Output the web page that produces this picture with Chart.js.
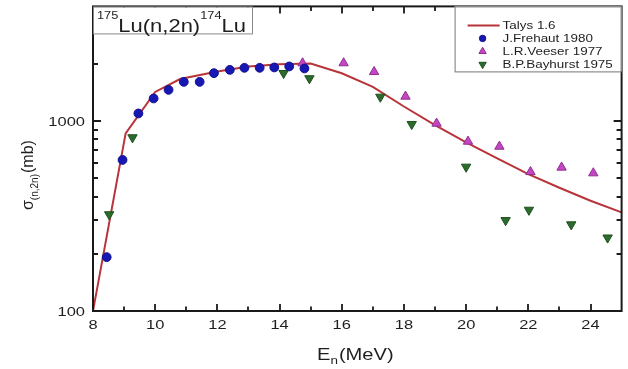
<!DOCTYPE html>
<html>
<head>
<meta charset="utf-8">
<script src="https://cdn.jsdelivr.net/npm/chart.js@4.4.1/dist/chart.umd.min.js"></script>
<style>
  html, body { margin:0; padding:0; background:#fff; }
</style>
</head>
<body>
<canvas id="xs" width="628" height="369"></canvas>
<script>
const FONT = "'Liberation Sans', Arial, sans-serif";
const INK = "#1a1a1a";
const SX = 1.22; // text in this figure is drawn a bit wide

// Talys 1.6 calculation
const talysE     = [8, 9.05, 10, 10.8, 12, 13, 14, 15, 16, 17, 18, 19, 20, 21, 22, 23, 24, 25];
const talysSigma = [100, 860, 1420, 1660, 1820, 1930, 1985, 2005, 1780, 1510, 1190, 950, 770, 635, 525, 445, 380, 330];

// J.Frehaut 1980
const frehautE     = [8.44, 8.95, 9.46, 9.95, 10.43, 10.92, 11.43, 11.89, 12.40, 12.87, 13.36, 13.83, 14.31, 14.80];
const frehautSigma = [192, 623, 1094, 1312, 1456, 1604, 1604, 1782, 1855, 1901, 1901, 1910, 1933, 1887];

// L.R.Veeser 1977
const veeserE     = [14.74, 16.06, 17.04, 18.05, 19.05, 20.06, 21.07, 22.07, 23.07, 24.09];
const veeserSigma = [2013, 2013, 1811, 1344, 969, 779, 733, 539, 569, 531];

// B.P.Bayhurst 1975
const bayhurstE     = [8.52, 9.27, 14.13, 14.96, 17.24, 18.25, 20.0, 21.27, 22.02, 23.38, 24.55];
const bayhurstSigma = [322, 818, 1782, 1672, 1337, 961, 573, 300, 340, 285, 243];

const xTickValues  = [8, 10, 12, 14, 16, 18, 20, 22, 24];
const xMinorTicks  = [9, 11, 13, 15, 17, 19, 21, 23];
const yTickLabels  = [100, 1000];
const yMinorTicks  = [200, 300, 400, 500, 600, 700, 800, 900, 2000, 3000];

const pts = (xs, ys) => xs.map((x, i) => ({ x, y: ys[i] }));

function wideText(ctx, text, x, y, size, align){
  ctx.save();
  ctx.font = `${size}px ${FONT}`;
  const w = ctx.measureText(text).width * SX;
  ctx.translate(x, y);
  ctx.scale(SX, 1);
  ctx.textAlign = align || "left";
  ctx.fillText(text, 0, 0);
  ctx.restore();
  return w;
}

// frame, inward ticks on all four sides, labels, title box and legend
const decor = {
  id: "decor",
  afterDatasetsDraw(chart){
    const { ctx, chartArea: a, scales: { x, y } } = chart;
    ctx.save();
    ctx.strokeStyle = INK;
    ctx.lineWidth = 2;
    ctx.strokeRect(a.left, a.top, a.right - a.left, a.bottom - a.top);

    const xTick = (v, len) => {
      const px = Math.round(x.getPixelForValue(v));
      ctx.beginPath();
      ctx.moveTo(px, a.bottom); ctx.lineTo(px, a.bottom - len);
      ctx.moveTo(px, a.top);    ctx.lineTo(px, a.top + len);
      ctx.stroke();
    };
    const yTick = (v, len) => {
      const py = Math.round(y.getPixelForValue(v));
      ctx.beginPath();
      ctx.moveTo(a.left, py);  ctx.lineTo(a.left + len, py);
      ctx.moveTo(a.right, py); ctx.lineTo(a.right - len, py);
      ctx.stroke();
    };
    ctx.lineWidth = 1.8;
    xTickValues.forEach(v => xTick(v, 7));
    xMinorTicks.forEach(v => xTick(v, 4.5));
    yTickLabels.forEach(v => yTick(v, 8));
    yMinorTicks.forEach(v => yTick(v, 5));

    // tick labels
    ctx.fillStyle = "#1e1e1e";
    ctx.textBaseline = "middle";
    xTickValues.forEach(v => wideText(ctx, String(v), x.getPixelForValue(v), a.bottom + 14, 13.5, "center"));
    yTickLabels.forEach(v => wideText(ctx, String(v), a.left - 8, y.getPixelForValue(v) + 1, 13.5, "right"));

    // axis titles
    ctx.textBaseline = "alphabetic";
    let cx = 317;
    cx += wideText(ctx, "E", cx, 360, 16.5);
    cx += wideText(ctx, "n", cx, 364, 11);
    wideText(ctx, "(MeV)", cx + 1, 360, 16.5);

    ctx.save();
    ctx.translate(33, 210);
    ctx.rotate(-Math.PI / 2);
    ctx.font = `16px ${FONT}`;
    let ty = 0;
    ctx.fillText("\u03c3", ty, 0); ty += ctx.measureText("\u03c3").width;
    ctx.font = `10px ${FONT}`;
    ctx.fillText("(n,2n)", ty, 5); ty += ctx.measureText("(n,2n)").width + 1;
    ctx.font = `16px ${FONT}`;
    ctx.fillText("(mb)", ty, 0);
    ctx.restore();

    // reaction box
    ctx.fillStyle = "#fff";
    ctx.fillRect(a.left + 1, a.top + 1, 158, 26);
    ctx.strokeStyle = "#8a8a8a";
    ctx.lineWidth = 1;
    ctx.strokeRect(a.left + 0.5, a.top + 0.5, 159, 27);
    ctx.fillStyle = "#1e1e1e";
    let rx = 97;
    rx += wideText(ctx, "175", rx, 19, 10.5);
    rx += wideText(ctx, "Lu(n,2n)", rx, 31.5, 18);
    rx += wideText(ctx, "174", rx, 19, 10.5);
    wideText(ctx, "Lu", rx, 31.5, 18);

    // legend
    const lx = a.right - 167, ly = a.top;
    ctx.fillStyle = "#fff";
    ctx.fillRect(lx, ly, 167, 65);
    ctx.strokeStyle = "#777";
    ctx.strokeRect(lx + 0.5, ly + 0.5, 166, 65);
    chart.data.datasets.forEach((ds, i) => {
      const rowY = ly + 19 + i * 13;
      if (ds.showLine){
        ctx.strokeStyle = ds.borderColor;
        ctx.lineWidth = ds.borderWidth;
        ctx.beginPath(); ctx.moveTo(lx + 13, rowY); ctx.lineTo(lx + 45, rowY); ctx.stroke();
      } else {
        ctx.fillStyle = ds.backgroundColor;
        ctx.strokeStyle = ds.borderColor;
        ctx.lineWidth = 1;
        Chart.helpers.drawPoint(ctx, {
          pointStyle: ds.pointStyle, rotation: ds.rotation || 0,
          radius: ds.pointRadius - 1.2, borderWidth: 1
        }, lx + 28, rowY);
      }
      ctx.fillStyle = "#1e1e1e";
      ctx.textBaseline = "middle";
      wideText(ctx, ds.label, lx + 48, rowY + 0.5, 11);
    });
    ctx.restore();
  }
};

new Chart(document.getElementById("xs"), {
  type: "scatter",
  data: {
    datasets: [
      { label: "Talys 1.6", data: pts(talysE, talysSigma), showLine: true,
        borderColor: "#b7353a", borderWidth: 2, pointRadius: 0, order: 2 },
      { label: "J.Frehaut 1980", data: pts(frehautE, frehautSigma), pointStyle: "circle",
        pointRadius: 4.4, backgroundColor: "#1717b3", borderColor: "#10108f", borderWidth: 1, order: 1 },
      { label: "L.R.Veeser 1977", data: pts(veeserE, veeserSigma), pointStyle: "triangle",
        pointRadius: 5.4, backgroundColor: "#c446c4", borderColor: "#8e2f8e", borderWidth: 1, order: 1 },
      { label: "B.P.Bayhurst 1975", data: pts(bayhurstE, bayhurstSigma), pointStyle: "triangle",
        rotation: 180, pointRadius: 5.4, backgroundColor: "#2b6b2b", borderColor: "#1f4f1f", borderWidth: 1, order: 1 }
    ]
  },
  options: {
    responsive: false,
    animation: false,
    layout: { padding: { top: 6, right: 6, left: 0, bottom: 0 } },
    plugins: { legend: { display: false }, tooltip: { enabled: false } },
    scales: {
      x: {
        type: "linear", min: 8, max: 25,
        ticks: { display: false, stepSize: 2 },
        grid: { display: false }, border: { display: false },
        afterFit: s => { s.height = 58; }
      },
      y: {
        type: "logarithmic", min: 100, max: 4000,
        ticks: { display: false },
        grid: { display: false }, border: { display: false },
        afterFit: s => { s.width = 93; }
      }
    }
  },
  plugins: [decor]
});
</script>
</body>
</html>
